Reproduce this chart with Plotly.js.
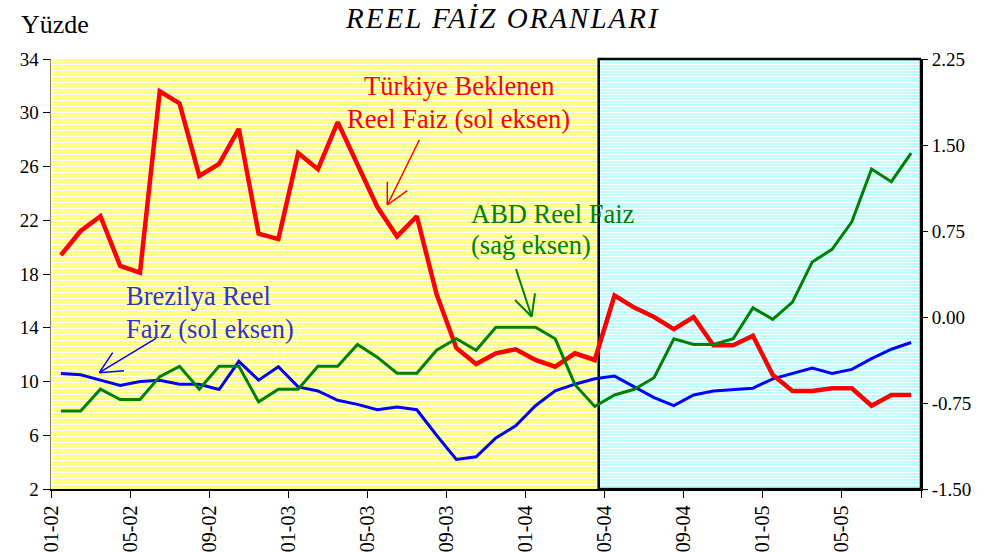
<!DOCTYPE html>
<html>
<head>
<meta charset="utf-8">
<script src="https://cdn.plot.ly/plotly-3.0.1.min.js"></script>
<style>html,body{margin:0;padding:0;background:#fff;} #chart{width:995px;height:552px;}</style>
</head>
<body>
<div id="chart"></div>
<script>
// ---- data (monthly, 01-02 .. 08-05) ----
const months = ["01-02","02-02","03-02","04-02","05-02","06-02","07-02","08-02","09-02","10-02","11-02","12-02",
                "01-03","02-03","03-03","04-03","05-03","06-03","07-03","08-03","09-03","10-03","11-03","12-03",
                "01-04","02-04","03-04","04-04","05-04","06-04","07-04","08-04","09-04","10-04","11-04","12-04",
                "01-05","02-05","03-05","04-05","05-05","06-05","07-05","08-05"];
const tickLabels = ["01-02","05-02","09-02","01-03","05-03","09-03","01-04","05-04","09-04","01-05","05-05"];
const turkey = [19.4,21.2,22.3,18.6,18.1,31.6,30.7,25.3,26.2,28.8,21.0,20.6,27.0,25.8,29.3,26.1,23.0,20.8,22.3,16.5,
                12.5,11.3,12.1,12.4,11.6,11.1,12.1,11.6,16.4,15.5,14.8,13.9,14.8,12.7,12.7,13.4,10.5,9.3,9.3,9.5,
                9.5,8.2,9.0,9.0];
const brazil = [10.6,10.5,10.1,9.7,10.0,10.1,9.8,9.8,9.4,11.5,10.1,11.1,9.6,9.3,8.6,8.3,7.9,8.1,7.9,6.0,
                4.2,4.4,5.8,6.7,8.2,9.3,9.8,10.2,10.4,9.6,8.8,8.2,9.0,9.3,9.4,9.5,10.2,10.6,11.0,10.6,
                10.9,11.7,12.4,12.9];
const usa = [-0.82,-0.82,-0.63,-0.72,-0.72,-0.52,-0.43,-0.63,-0.43,-0.43,-0.74,-0.63,-0.63,-0.43,-0.43,-0.24,-0.35,-0.49,-0.49,-0.29,
             -0.19,-0.29,-0.09,-0.09,-0.09,-0.19,-0.59,-0.78,-0.68,-0.63,-0.53,-0.19,-0.24,-0.24,-0.19,0.08,-0.02,0.13,0.48,0.59,
             0.83,1.29,1.18,1.43];
const leftTicks = [2,6,10,14,18,22,26,30,34];
const rightTicks = [-1.5,-0.75,0,0.75,1.5,2.25];
const rightTickText = ["-1.50","-0.75","0.00","0.75","1.50","2.25"];
const splitMonth = 27.7; // start of shaded box (in months from 01-02)

// ---- geometry helpers ----
const W = 995, H = 552, ML = 51, MR = 74, MT = 59, MB = 63;
const PW = W - ML - MR, PH = H - MT - MB;
const px = x => (x - ML) / PW;
const py = y => (MT + PH - y) / PH;

const xs = months.map((m, i) => i + 0.5);
const FONT = "Liberation Serif, Times New Roman, serif";

const traces = [
  {x: xs, y: usa, yaxis: 'y2', mode: 'lines', line: {color: '#008000', width: 3}, name: 'ABD'},
  {x: xs, y: brazil, mode: 'lines', line: {color: '#0000FF', width: 3}, name: 'Brezilya'},
  {x: xs, y: turkey, mode: 'lines', line: {color: '#FF0000', width: 4.5}, name: 'Türkiye'}
];

const shapes = [
  {type: 'rect', xref: 'x', yref: 'paper', x0: 0, x1: splitMonth, y0: 0, y1: 1, fillcolor: '#FFFF80', line: {width: 0}, layer: 'below'},
  {type: 'rect', xref: 'x', yref: 'paper', x0: splitMonth, x1: months.length, y0: 0, y1: 1, fillcolor: '#C0FFFF', line: {width: 0}, layer: 'below'}
];
for (let r = 2; r < PH; r += 3) {
  shapes.push({type: 'rect', xref: 'paper', yref: 'paper', x0: 0, x1: 1,
    y0: (PH - r - 1) / PH, y1: (PH - r) / PH, fillcolor: '#FFFFFF', line: {width: 0}, layer: 'below'});
}
shapes.push({type: 'rect', xref: 'x', yref: 'paper', x0: splitMonth, x1: months.length, y0: 0, y1: 1,
  line: {color: '#000', width: 2.5}, fillcolor: 'rgba(0,0,0,0)', layer: 'below'});

function arrow(x0, y0, x1, y1, h1, h2, color, w) {
  const seg = (a, b, c, d) => ({type: 'line', xref: 'paper', yref: 'paper', x0: px(a), y0: py(b), x1: px(c), y1: py(d),
    line: {color: color, width: w}, layer: 'above'});
  shapes.push(seg(x0, y0, x1, y1), seg(x1, y1, h1[0], h1[1]), seg(x1, y1, h2[0], h2[1]));
}
arrow(419.3, 140, 387.3, 205, [387.3, 181.7], [407.3, 190.7], '#FF0000', 1.5);
arrow(516, 269, 531.7, 316.7, [515, 300], [535, 293.3], '#008000', 2);
arrow(156, 338.3, 99.3, 372.7, [112.7, 352.7], [124, 370.7], '#0000FF', 1.5);

function txt(text, x, baseline, size, color, anchor, extra) {
  return Object.assign({text: text, xref: 'paper', yref: 'paper', x: px(x), y: py(baseline - 0.33 * size),
    xanchor: anchor, yanchor: 'middle', showarrow: false, font: {family: FONT, size: size, color: color}}, extra || {});
}
const annotations = [
  txt('<i><span style="letter-spacing:2px">REEL FAİZ ORANLARI</span></i>', 502.5, 27.3, 29, '#000', 'center'),
  txt('Yüzde', 19, 33, 26, '#000', 'left'),
  txt('Türkiye Beklenen', 459, 95, 26.5, '#FF0000', 'center'),
  txt('Reel Faiz (sol eksen)', 458.7, 127.3, 26.5, '#FF0000', 'center'),
  txt('ABD Reel Faiz', 469, 222.7, 26.5, '#008000', 'left'),
  txt('(sağ eksen)', 469, 253.3, 26.5, '#008000', 'left'),
  txt('Brezilya Reel', 124, 305, 26.5, '#3333CC', 'left'),
  txt('Faiz (sol eksen)', 124, 337.3, 26.5, '#3333CC', 'left')
];

const tickVals = tickLabels.map(l => months.indexOf(l)).concat([months.length]);
const tickText = tickLabels.concat(['']);

const layout = {
  width: W, height: H,
  margin: {l: ML, r: MR, t: MT, b: MB, pad: 0},
  paper_bgcolor: '#FFFFFF', plot_bgcolor: 'rgba(0,0,0,0)',
  showlegend: false, hovermode: false,
  font: {family: FONT, size: 19, color: '#000'},
  xaxis: {range: [0, months.length], tickvals: tickVals, ticktext: tickText, tickangle: -90,
    showgrid: false, zeroline: false, showline: true, linecolor: '#000', linewidth: 1.5,
    ticks: 'outside', ticklen: 7, tickcolor: '#000', tickwidth: 1, tickfont: {family: FONT, size: 20}},
  yaxis: {range: [2, 34], tickvals: leftTicks, showgrid: false, zeroline: false, showline: true,
    linecolor: '#808080', linewidth: 1.5, ticks: 'outside', ticklen: 7, tickcolor: '#000', tickwidth: 1,
    tickfont: {family: FONT, size: 19}},
  yaxis2: {range: [-1.5, 2.25], tickvals: rightTicks, ticktext: rightTickText, overlaying: 'y', side: 'right',
    showgrid: false, zeroline: false, showline: true, linecolor: '#000', linewidth: 2,
    ticks: 'outside', ticklen: 5, tickcolor: '#000', tickwidth: 1, tickfont: {family: FONT, size: 19}},
  shapes: shapes,
  annotations: annotations
};

Plotly.newPlot('chart', traces, layout, {staticPlot: true, displayModeBar: false});
</script>
</body>
</html>
